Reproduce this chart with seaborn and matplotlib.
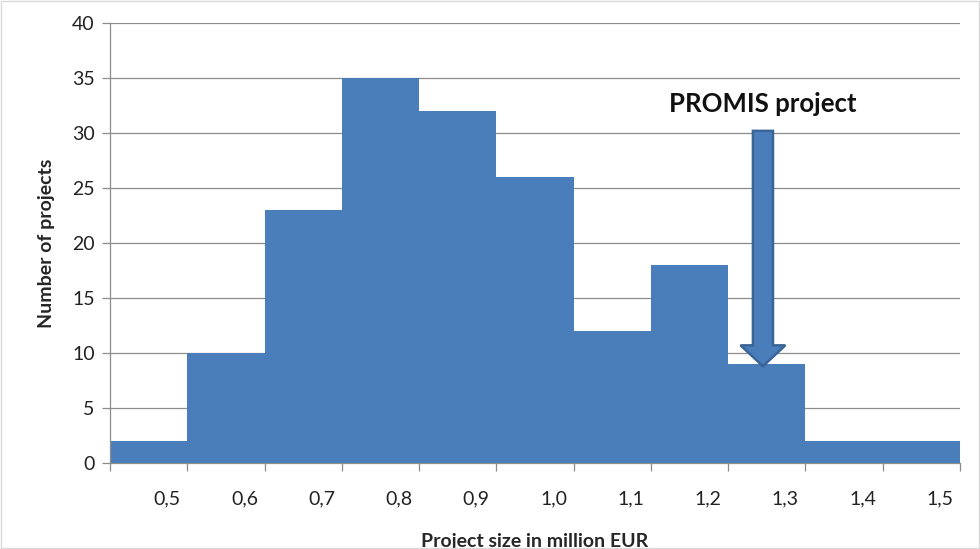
import matplotlib
matplotlib.use("Agg")
import matplotlib.pyplot as plt
import seaborn as sns
import numpy as np
import pandas as pd
from matplotlib.patches import FancyArrow

bin_starts = [0.4, 0.5, 0.6, 0.7, 0.8, 0.9, 1.0, 1.1, 1.2, 1.3, 1.4]
counts = [2, 10, 23, 35, 32, 26, 12, 18, 9, 2, 2]
tick_labels = ["0,5", "0,6", "0,7", "0,8", "0,9", "1,0", "1,1", "1,2", "1,3", "1,4", "1,5"]
promis_x = 1.25
promis_label = "PROMIS project"

sns.set_style("white")
plt.rcParams['font.family'] = ['Lato', 'DejaVu Sans']

df = pd.DataFrame({"size": [b + 0.05 for b in bin_starts], "n": counts})
edges = bin_starts + [bin_starts[-1] + 0.1]

fig = plt.figure(figsize=(9.8, 5.49), dpi=100)
ax = fig.add_axes([0.1122, 0.1566, 0.8674, 0.8014])
sns.histplot(data=df, x="size", weights="n", bins=edges, ax=ax,
             color="#4A7EBB", alpha=1, linewidth=0, edgecolor="none", zorder=2)

ax.set_xlim(0.4, 1.5)
ax.set_ylim(0, 40)
ax.set_yticks(np.arange(0, 41, 5))
ax.yaxis.grid(True, color="#8c8c8c", linewidth=0.9, zorder=0)
ax.set_axisbelow(True)
ax.set_xticks(edges)
ax.set_xticklabels([])
ax.set_xticks([e - 0.026 for e in edges[1:]], minor=True)
ax.set_xticklabels(tick_labels, minor=True)
ax.tick_params(axis="x", which="major", direction="out", length=6, color="#8c8c8c", width=0.9, bottom=True)
ax.tick_params(axis="x", which="minor", length=0, labelsize=14, pad=20, colors="#222222")
ax.tick_params(axis="y", direction="out", length=6, color="#8c8c8c", width=0.9, left=True, labelsize=14, labelcolor="#222222", pad=5)
for s in ["top", "right"]:
    ax.spines[s].set_visible(False)
for s in ["left", "bottom"]:
    ax.spines[s].set_color("#8c8c8c")
    ax.spines[s].set_linewidth(0.9)

ax.set_xlabel("Project size in million EUR", fontsize=14, fontweight="bold", labelpad=18)
ax.set_ylabel("Number of projects", fontsize=14, fontweight="bold", labelpad=12)

arrow = FancyArrow(promis_x - 0.005, 30.2, 0, -21.4, width=0.026, head_width=0.058,
                   head_length=1.9, length_includes_head=True,
                   facecolor="#4A7EBB", edgecolor="#3A6596", linewidth=1.8, zorder=4)
ax.add_patch(arrow)
ax.text(promis_x - 0.005, 32.6, promis_label, ha="center", va="center", fontsize=18.5,
        fontweight="bold", color="#111111", zorder=5)

fig.patches.append(plt.Rectangle((0.001, 0.001), 0.998, 0.998, transform=fig.transFigure,
                                 fill=False, edgecolor="#d9d9d9", linewidth=1))
fig.savefig("out.png", dpi=100)
